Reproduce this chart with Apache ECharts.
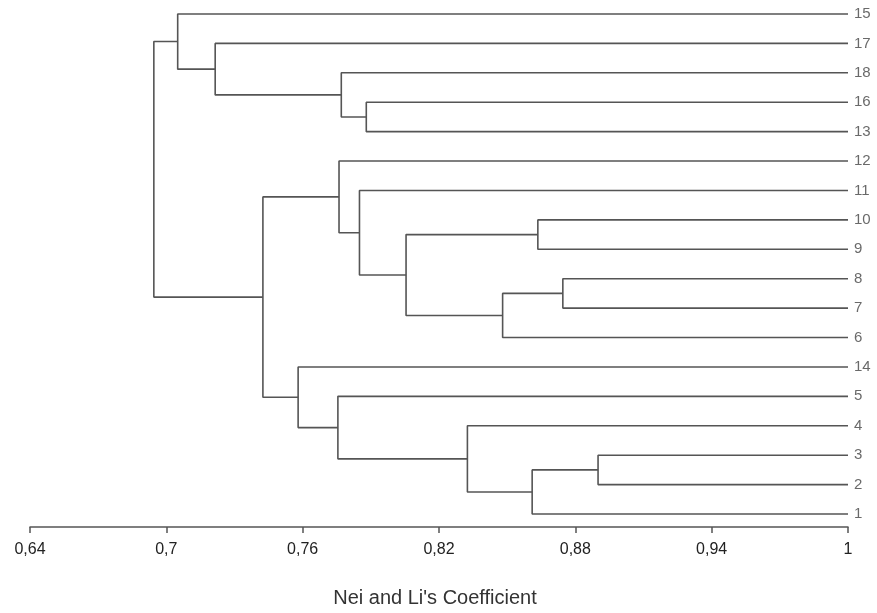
<!DOCTYPE html>
<html lang="en">
	<head>
		<meta charset="UTF-8" />
		<title>Dendrogram</title>
		<script src="https://cdn.jsdelivr.net/npm/echarts@6/dist/echarts.min.js"></script>
		<style>
			* {
				margin: 0;
				padding: 0;
			}
			html,
			body {
				height: 100%;
				background: #fff;
			}
		</style>
	</head>
	<body>
		<div id="main" style="width:877px;height:613px;"></div>
		<script type="text/javascript">
			// leaves, top to bottom
			var leaves = ["15", "17", "18", "16", "13", "12", "11", "10", "9", "8", "7", "6", "14", "5", "4", "3", "2", "1"];
			// merges: children are leaf names or "#k" (k-th merge)
			var mergeLeft = ["16", "18", "17", "15", "10", "8", "#5", "#4", "11", "12", "3", "#10", "4", "5", "14", "#9", "#3"];
			var mergeRight = ["13", "#0", "#1", "#2", "9", "7", "6", "#6", "#7", "#8", "2", "1", "#11", "#12", "#13", "#14", "#15"];
			var mergeHeight = [0.788, 0.777, 0.7215, 0.705, 0.8635, 0.8745, 0.848, 0.8055, 0.785, 0.776, 0.89, 0.861, 0.8325, 0.7755, 0.758, 0.7425, 0.6945];
			var tickValues = [0.64, 0.7, 0.76, 0.82, 0.88, 0.94, 1];

			var nodes = []; // position of each merge [x, y]
			function pos(ref) {
				if (ref.charAt(0) == "#") return nodes[parseInt(ref.slice(1))];
				return [1, leaves.indexOf(ref)];
			}
			var series = [];
			for (var k = 0; k < mergeHeight.length; k++) {
				var a = pos(mergeLeft[k]);
				var b = pos(mergeRight[k]);
				var h = mergeHeight[k];
				nodes.push([h, (a[1] + b[1]) / 2]);
				series.push({
					type: "line",
					symbol: "none",
					silent: true,
					clip: false,
					lineStyle: { color: "#555", width: 1.6 },
					data: [a, [h, a[1]], [h, b[1]], b]
				});
			}
			// leaf labels
			series.push({
				type: "scatter",
				symbolSize: 0,
				silent: true,
				data: leaves.map(function(l, i) {
					return [1, i];
				}),
				label: {
					show: true,
					position: "right",
					distance: 6,
					color: "#444",
					fontSize: 15,
					fontFamily: "Liberation Sans",
					formatter: function(p) {
						return leaves[p.dataIndex];
					}
				}
			});

			var option = {
				animation: false,
				grid: { left: 30, right: 29, top: 1, bottom: 86, containLabel: false, outerBoundsMode: "none" },
				xAxis: {
					type: "value",
					position: "bottom",
					min: 0.64,
					max: 1,
					name: "Nei and Li's Coefficient",
					nameLocation: "middle",
					nameGap: 61,
					nameTextStyle: { color: "#333", fontSize: 20, fontFamily: "Liberation Sans", padding: [0, 8, 0, 0] },
					splitLine: { show: false },
					axisLine: { onZero: false, lineStyle: { color: "#555", width: 1.5 } },
					axisTick: { customValues: tickValues, length: 6, lineStyle: { color: "#555", width: 1.5 } },
					axisLabel: {
						customValues: tickValues,
						color: "#222",
						fontSize: 16,
						fontFamily: "Liberation Sans",
						margin: 15,
						formatter: function(v) {
							return String(Math.round(v * 100) / 100).replace(".", ",");
						}
					}
				},
				yAxis: {
					type: "value",
					inverse: true,
					min: -0.442,
					max: 17.442,
					show: false
				},
				series: series
			};
			var myChart = echarts.init(document.getElementById("main"));
			myChart.setOption(option);
		</script>
	</body>
</html>
